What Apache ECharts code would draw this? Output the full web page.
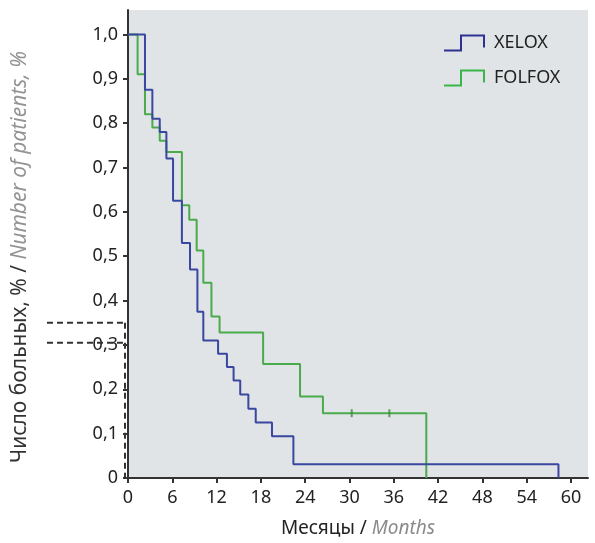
<!DOCTYPE html>
<html>
<head>
<meta charset="utf-8">
<script src="https://cdn.jsdelivr.net/npm/echarts@6/dist/echarts.min.js"></script>
<style>
  html, body { margin: 0; padding: 0; background: #fff; }
  #chart { width: 595px; height: 543px; }
</style>
</head>
<body>
<div id="chart"></div>
<script>
// Кривые выживаемости (месяцы / доля больных)
const xeloxTime = [0, 2.3, 3.3, 4.3, 5.2, 6.1, 7.3, 8.4, 9.4, 10.2, 12.2, 13.4, 14.3, 15.2, 16.3, 17.3, 19.5, 22.4, 58.3];
const xeloxSurv = [1, 0.875, 0.81, 0.78, 0.72, 0.625, 0.53, 0.47, 0.375, 0.31, 0.28, 0.25, 0.22, 0.188, 0.156, 0.125, 0.094, 0.031, 0];

const folfoxTime = [0, 1.3, 2.3, 3.3, 4.3, 5.2, 7.3, 8.3, 9.3, 10.2, 11.3, 12.4, 18.3, 23.3, 26.4, 40.4];
const folfoxSurv = [1, 0.91, 0.82, 0.79, 0.76, 0.735, 0.615, 0.582, 0.513, 0.44, 0.364, 0.328, 0.257, 0.184, 0.146, 0];

// цензурированные наблюдения FOLFOX
const folfoxCensorTime = [30.3, 35.4];
const folfoxCensorSurv = [0.146, 0.146];

const xTicks = [0, 6, 12, 18, 24, 30, 36, 42, 48, 54, 60];
const yTicks = [0, 0.1, 0.2, 0.3, 0.4, 0.5, 0.6, 0.7, 0.8, 0.9, 1.0];
const dashLevels = [0.35, 0.305];

const BLUE = '#3a47a0';
const GREEN = '#4aaa4c';
const FONT = 'Noto Sans';

const zip = (a, b) => a.map((v, i) => [v, b[i]]);

const chart = echarts.init(document.getElementById('chart'));

const stepIcon = 'path://M0,15 L17,15 L17,0 L40,0 L40,12';

chart.setOption({
    animation: false,
    textStyle: { fontFamily: FONT },
    grid: {
        left: 128,
        top: 10,
        right: 7,
        bottom: 65,
        show: true,
        backgroundColor: '#e1e4e7',
        borderWidth: 0
    },
    legend: {
        orient: 'vertical',
        left: 438,
        top: 29,
        itemWidth: 40,
        itemHeight: 15,
        itemGap: 17,
        textStyle: { fontSize: 18, color: '#222', fontFamily: FONT, padding: [0, 0, 0, 5] },
        data: [
            { name: 'XELOX', icon: stepIcon, itemStyle: { color: 'rgba(0,0,0,0)', borderColor: '#2e3192', borderWidth: 2 } },
            { name: 'FOLFOX', icon: stepIcon, itemStyle: { color: 'rgba(0,0,0,0)', borderColor: '#39b54a', borderWidth: 2 } }
        ]
    },
    xAxis: {
        type: 'value',
        min: 0,
        max: 62.3,
        name: '{a|Месяцы / }{b|Months}',
        nameLocation: 'middle',
        nameGap: 41,
        nameTextStyle: {
            rich: {
                a: { fontSize: 19, color: '#222', fontFamily: FONT },
                b: { fontSize: 19, color: '#8a8a8a', fontStyle: 'italic', fontFamily: FONT }
            }
        },
        splitLine: { show: false },
        axisLine: { show: true, lineStyle: { color: '#333', width: 2 } },
        axisTick: { show: true, length: 5, lineStyle: { color: '#333', width: 2 }, customValues: xTicks },
        axisLabel: { fontSize: 18, color: '#222', margin: 11, customValues: xTicks }
    },
    yAxis: {
        type: 'value',
        min: 0,
        max: 1.055,
        name: '{a|Число больных, % / }{b|Number of patients, %}',
        nameLocation: 'middle',
        nameGap: 97,
        nameTextStyle: {
            padding: [0, 26, 0, 0],
            rich: {
                a: { fontSize: 21, color: '#333', fontFamily: FONT },
                b: { fontSize: 21, color: '#939393', fontStyle: 'italic', fontFamily: FONT }
            }
        },
        splitLine: { show: false },
        axisLine: { show: true, lineStyle: { color: '#333', width: 2 } },
        axisTick: { show: true, length: 5, lineStyle: { color: '#333', width: 2 }, customValues: yTicks },
        axisLabel: {
            fontSize: 18,
            color: '#222',
            margin: 10,
            customValues: yTicks,
            formatter: v => (v === 0 ? '0' : v.toFixed(1).replace('.', ','))
        }
    },
    series: [
        {
            name: 'XELOX',
            type: 'line',
            step: 'end',
            symbol: 'none',
            data: zip(xeloxTime, xeloxSurv),
            lineStyle: { color: BLUE, width: 2 },
            itemStyle: { color: BLUE },
            z: 3
        },
        {
            name: 'FOLFOX',
            type: 'line',
            step: 'end',
            symbol: 'none',
            data: zip(folfoxTime, folfoxSurv),
            lineStyle: { color: GREEN, width: 2 },
            itemStyle: { color: GREEN },
            z: 2
        },
        {
            name: 'FOLFOX censored',
            type: 'scatter',
            symbol: 'rect',
            symbolSize: [2, 8],
            data: zip(folfoxCensorTime, folfoxCensorSurv),
            itemStyle: { color: '#3c8a3e' },
            z: 4
        }
    ]
});

// штриховые выноски слева от оси
const x0 = chart.convertToPixel({ gridIndex: 0 }, [0, 0]);
const dashStyle = { stroke: '#333', lineWidth: 2, lineDash: [6, 4] };
const yTop = chart.convertToPixel({ gridIndex: 0 }, [0, dashLevels[0]])[1];
const graphics = dashLevels.map(v => {
    const y = chart.convertToPixel({ gridIndex: 0 }, [0, v])[1];
    return { type: 'line', shape: { x1: 47, y1: y, x2: x0[0] - 3, y2: y }, style: dashStyle, z: 10 };
});
graphics.push({ type: 'line', shape: { x1: x0[0] - 3, y1: yTop, x2: x0[0] - 3, y2: x0[1] + 2 }, style: dashStyle, z: 10 });
chart.setOption({ graphic: graphics });

window.addEventListener('resize', () => chart.resize());
</script>
</body>
</html>
